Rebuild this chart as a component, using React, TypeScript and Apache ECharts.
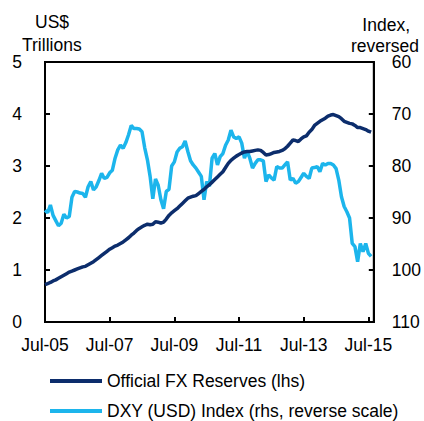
import React, { useEffect, useRef } from "react";
import * as echarts from "echarts";

const START_YEAR = 2005;
const START_MONTH = 6; // July (0-based)
const MONTH_COUNT = 123; // Jul-05 .. Sep-15

const reserves = [
  0.72, 0.74, 0.76, 0.79, 0.81, 0.84, 0.87, 0.9, 0.93, 0.96, 0.98, 1.0,
  1.02, 1.04, 1.06, 1.07, 1.1, 1.13, 1.16, 1.2, 1.24, 1.28, 1.32, 1.36,
  1.4, 1.43, 1.46, 1.48, 1.51, 1.54, 1.58, 1.62, 1.67, 1.71, 1.76, 1.8,
  1.83, 1.86, 1.88, 1.87, 1.88, 1.93, 1.92, 1.9, 1.92, 1.98, 2.05, 2.1,
  2.14, 2.18, 2.23, 2.28, 2.33, 2.38, 2.4, 2.42, 2.43, 2.47, 2.51, 2.55,
  2.6, 2.64, 2.69, 2.74, 2.79, 2.84, 2.89, 2.97, 3.05, 3.11, 3.15, 3.19,
  3.22, 3.25, 3.27, 3.28, 3.28, 3.29, 3.3, 3.31, 3.3, 3.26, 3.21, 3.22,
  3.24, 3.26, 3.27, 3.28, 3.3, 3.33, 3.38, 3.44, 3.5, 3.49, 3.47, 3.52,
  3.56, 3.58, 3.65, 3.7, 3.78, 3.82, 3.86, 3.89, 3.92, 3.96, 3.98, 3.99,
  3.97, 3.95, 3.91, 3.86, 3.84, 3.82, 3.81, 3.78, 3.74, 3.74, 3.72, 3.7,
  3.67, 3.65,
];

const dxy = [
  88.5, 89, 87.5, 89.5, 90.5, 91.5, 91, 89.3, 90, 89.7, 86, 84.9,
  85, 85.2, 85.3, 86, 84, 83, 84.6, 84, 82.8, 81.4, 82.4, 82.2,
  81.3, 80.8, 78.5, 76.9, 76, 76.6, 75.5, 74, 72.2, 72.8, 72.8, 72.9,
  73.4, 76.5, 78.8, 82, 86.3, 82.5, 83.7, 86.5, 88.2, 84.9, 84.5, 80,
  79.2, 77.3, 76.6, 76.3, 75.2, 77.2, 79, 79.8, 80.4, 81.2, 82, 86.5,
  83, 83.9, 78.5, 77.6, 79.8, 78.2, 77.6, 76, 75, 73.1, 74.4, 74.7,
  74.4, 75.6, 78.5, 77.2, 78.5, 80.4, 79.5, 78.8, 78.8, 79, 83, 81.7,
  82.3, 82.7, 80.1, 80.4, 80.4, 79.8, 79.2, 82.7, 82.4, 83.3, 83, 82.2,
  81.4, 82, 82.4, 80.4, 80.3, 80.1, 81.1, 79.5, 79.8, 79.5, 79.5, 79.8,
  80.5, 82.7, 85.9, 87.8, 88.8, 90, 94.9, 95.5, 98.4, 94.9, 96.5, 94.9,
  96.8, 97.4,
];

const seriesNames = ["Official FX Reserves (lhs)", "DXY (USD) Index (rhs, reverse scale)"];
const leftTitle = ["US$", "Trillions"];
const rightTitle = ["Index,", "reversed"];

const MONTHS = ["Jan", "Feb", "Mar", "Apr", "May", "Jun", "Jul", "Aug", "Sep", "Oct", "Nov", "Dec"];
const categories: string[] = [];
for (let i = 0; i < MONTH_COUNT; i++) {
  const t = START_MONTH + i;
  const y = START_YEAR + Math.floor(t / 12);
  categories.push(MONTHS[t % 12] + "-" + String(y % 100).padStart(2, "0"));
}

const FONT = "'Liberation Sans', Arial, sans-serif";
const FS = 17.5;
const DARK = "#0c2d6c";
const LIGHT = "#1cb5ec";

export default function App() {
  const ref = useRef<HTMLDivElement>(null);
  useEffect(() => {
    if (!ref.current) return;
    const chart = echarts.init(ref.current, null, { renderer: "svg" });
    const textBase = { fontFamily: FONT, fontSize: FS, color: "#000" };
    const legendBase = {
      orient: "horizontal",
      left: 50,
      itemWidth: 52,
      itemHeight: 4,
      icon: "rect",
      padding: 0,
      textStyle: { ...textBase },
    };
    const titleFont = FS + "px " + FONT;
    chart.setOption({
      animation: false,
      textStyle: { fontFamily: FONT },
      grid: {
        left: 45,
        right: 49,
        top: 62,
        bottom: 99,
        show: true,
        borderColor: "#000",
        borderWidth: 2,
        backgroundColor: "transparent",
      },
      legend: [
        { ...legendBase, top: 372, data: [seriesNames[0]] },
        { ...legendBase, top: 402, data: [seriesNames[1]] },
      ],
      graphic: [
        { type: "text", left: 35, top: 13, style: { text: leftTitle[0], fill: "#000", font: titleFont } },
        { type: "text", left: 22, top: 36, style: { text: leftTitle[1], fill: "#000", font: titleFont } },
        { type: "text", right: 14, top: 16, style: { text: rightTitle[0], fill: "#000", font: titleFont } },
        { type: "text", right: 5, top: 37, style: { text: rightTitle[1], fill: "#000", font: titleFont } },
      ],
      xAxis: {
        type: "category",
        data: categories,
        boundaryGap: false,
        axisLine: { lineStyle: { color: "#000", width: 2 } },
        axisTick: {
          inside: true,
          length: 5,
          interval: (i: number) => i % 24 === 0,
          lineStyle: { color: "#000", width: 2 },
        },
        axisLabel: {
          interval: (i: number) => i % 24 === 0,
          ...textBase,
          margin: 14,
        },
        splitLine: { show: false },
      },
      yAxis: [
        {
          type: "value",
          min: 0,
          max: 5,
          interval: 1,
          position: "left",
          axisLine: { show: true, lineStyle: { color: "#000", width: 2 } },
          axisTick: { show: true, inside: true, length: 5, lineStyle: { color: "#000", width: 2 } },
          axisLabel: { ...textBase, margin: 23 },
          splitLine: { show: false },
        },
        {
          type: "value",
          min: 60,
          max: 110,
          interval: 10,
          inverse: true,
          position: "right",
          axisLine: { show: true, lineStyle: { color: "#000", width: 2 } },
          axisTick: { show: true, inside: true, length: 5, lineStyle: { color: "#000", width: 2 } },
          axisLabel: { ...textBase, margin: 18 },
          splitLine: { show: false },
        },
      ],
      series: [
        {
          name: seriesNames[0],
          type: "line",
          yAxisIndex: 0,
          data: reserves,
          showSymbol: false,
          symbol: "none",
          lineStyle: { color: DARK, width: 3.5 },
          itemStyle: { color: DARK },
          z: 3,
        },
        {
          name: seriesNames[1],
          type: "line",
          yAxisIndex: 1,
          data: dxy,
          showSymbol: false,
          symbol: "none",
          lineStyle: { color: LIGHT, width: 3.5 },
          itemStyle: { color: LIGHT },
          z: 2,
        },
      ],
    });
    return () => chart.dispose();
  }, []);
  return <div ref={ref} style={{ width: 424, height: 421, position: "absolute", left: 0, top: 0 }} />;
}
